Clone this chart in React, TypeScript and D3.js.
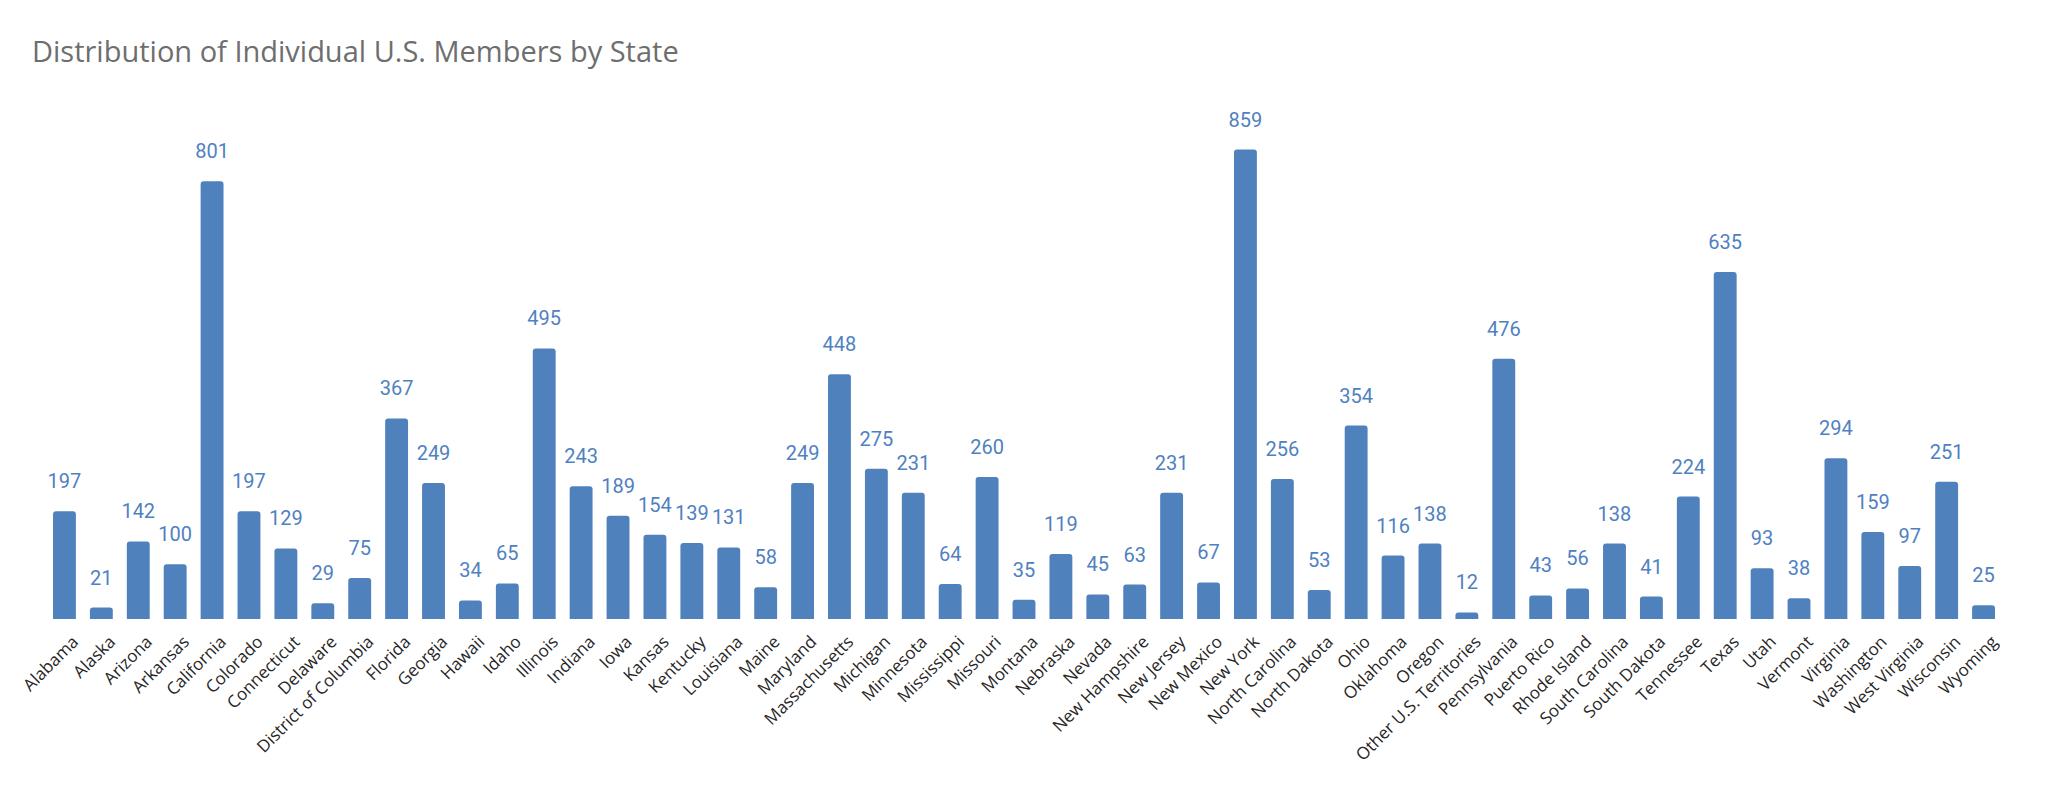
import React, { useRef, useEffect } from 'react';
import * as d3 from 'd3';

const states = [
  "Alabama", "Alaska", "Arizona", "Arkansas", "California", "Colorado", "Connecticut",
  "Delaware", "District of Columbia", "Florida", "Georgia", "Hawaii", "Idaho", "Illinois",
  "Indiana", "Iowa", "Kansas", "Kentucky", "Louisiana", "Maine", "Maryland", "Massachusetts",
  "Michigan", "Minnesota", "Mississippi", "Missouri", "Montana", "Nebraska", "Nevada",
  "New Hampshire", "New Jersey", "New Mexico", "New York", "North Carolina", "North Dakota",
  "Ohio", "Oklahoma", "Oregon", "Other U.S. Territories", "Pennsylvania", "Puerto Rico",
  "Rhode Island", "South Carolina", "South Dakota", "Tennessee", "Texas", "Utah", "Vermont",
  "Virginia", "Washington", "West Virginia", "Wisconsin", "Wyoming"
];

const members = [
  197, 21, 142, 100, 801, 197, 129,
  29, 75, 367, 249, 34, 65, 495,
  243, 189, 154, 139, 131, 58, 249, 448,
  275, 231, 64, 260, 35, 119, 45,
  63, 231, 67, 859, 256, 53,
  354, 116, 138, 12, 476, 43,
  56, 138, 41, 224, 635, 93, 38,
  294, 159, 97, 251, 25
];

const title = "Distribution of Individual U.S. Members by State";

const width = 2048;
const height = 796;
const barColor = "#4f81bd";

// bar with rounded top corners, square at the baseline
function topRoundedBar(x: number, y: number, w: number, h: number, r: number) {
  const rr = Math.min(r, h, w / 2);
  return `M${x},${y + h}V${y + rr}Q${x},${y} ${x + rr},${y}H${x + w - rr}Q${x + w},${y} ${x + w},${y + rr}V${y + h}Z`;
}

function App() {
  const ref = useRef<SVGSVGElement>(null);

  useEffect(() => {
    document.body.style.margin = "0";
    const svg = d3.select(ref.current);
    svg.selectAll("*").remove();

    const data = states.map((name, i) => ({ name, value: members[i] }));

    const x = d3.scaleBand<string>()
      .domain(states)
      .range([46, 2002])
      .paddingInner(0.38)
      .paddingOuter(0.19);

    const y = d3.scaleLinear()
      .domain([0, d3.max(members) as number])
      .range([619, 149.5]);

    svg.append("text")
      .attr("x", 32)
      .attr("y", 62)
      .attr("font-family", "'Open Sans', sans-serif")
      .attr("font-size", 29)
      .attr("fill", "#6e6e6e")
      .text(title);

    svg.append("g")
      .selectAll("path")
      .data(data)
      .join("path")
      .attr("fill", barColor)
      .attr("d", d => topRoundedBar(x(d.name) as number, y(d.value), x.bandwidth(), y(0) - y(d.value), 3));

    svg.append("g")
      .attr("font-family", "Roboto, sans-serif")
      .attr("font-size", 20)
      .attr("fill", "#4f81c1")
      .attr("text-anchor", "middle")
      .selectAll("text")
      .data(data)
      .join("text")
      .attr("x", d => (x(d.name) as number) + x.bandwidth() / 2)
      .attr("y", d => y(d.value) - 23)
      .text(d => d.value);

    // rotated category labels under the baseline
    const xAxis = d3.axisBottom(x).tickSize(0).tickPadding(0);
    const gx = svg.append("g")
      .attr("transform", `translate(0,${y(0)})`)
      .call(xAxis);
    gx.select(".domain").remove();
    gx.selectAll(".tick text")
      .attr("font-family", "'Open Sans', sans-serif")
      .attr("font-size", 17)
      .attr("fill", "#262626")
      .attr("text-anchor", "end")
      .attr("dy", null)
      .attr("y", 0)
      .attr("transform", "translate(15,24) rotate(-45)");
  }, []);

  return (
    <svg ref={ref} width={width} height={height} style={{ display: "block", background: "#fff" }} />
  );
}

export default App;
